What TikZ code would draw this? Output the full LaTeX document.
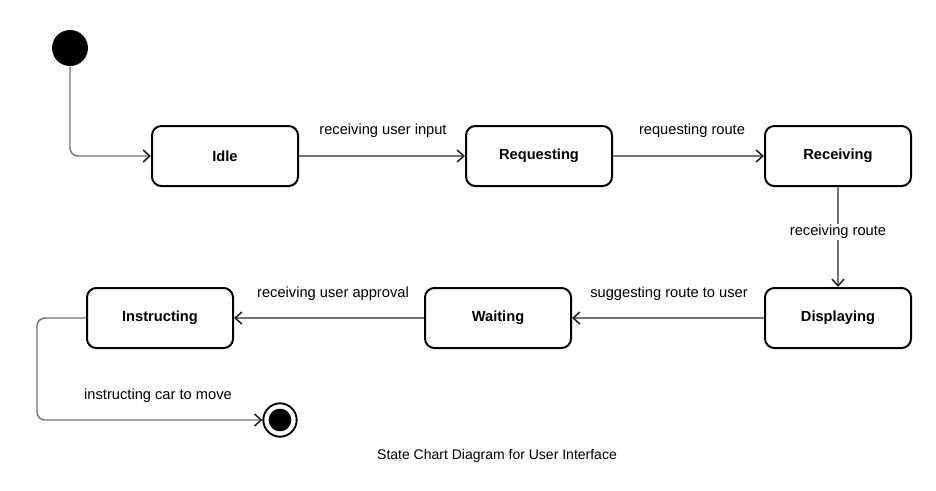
\documentclass[tikz,border=0pt]{standalone}
\usepackage{fontspec}
\setmainfont{Liberation Sans}
\usetikzlibrary{arrows.meta}

\tikzset{
  state/.style={draw=black, line width=1.5pt, rounded corners=7pt, fill=white,
    minimum width=109.5pt, minimum height=45pt, font=\bfseries\fontsize{11}{13}\selectfont},
  trans/.style={draw=black!55, line width=1.1pt, rounded corners=6pt,
    -{Straight Barb[length=5pt,width=9pt,line width=1.2pt,color=black!85]}},
  lbl/.style={font=\fontsize{11}{13}\selectfont, inner sep=1pt}
}

\begin{document}
\begin{tikzpicture}[x=0.75pt,y=-0.75pt]
  \useasboundingbox (0,0) rectangle (936,490);

  % Estado inicial y final
  \node[circle, fill=black, minimum size=27pt, inner sep=0pt] (ini) at (70,48) {};
  \node[circle, draw=black, line width=1.4pt, minimum size=25pt, inner sep=0pt] (fin) at (280,420) {};
  \node[circle, fill=black, minimum size=17pt, inner sep=0pt] (finin) at (280,420) {};

  % Estados
  \node[state] (idle) at (225,156) {Idle};
  \node[state] (req) at (539,156) {Requesting};
  \node[state] (rec) at (838,156) {Receiving};
  \node[state] (disp) at (838,318) {Displaying};
  \node[state] (wait) at (498,318) {Waiting};
  \node[state] (instr) at (160,318) {Instructing};

  % Transiciones
  \draw[trans] (ini.south) |- (idle.west);
  \draw[trans] (idle) -- (req);
  \draw[trans] (req) -- (rec);
  \draw[trans] (rec) -- (disp);
  \draw[trans] (disp) -- (wait);
  \draw[trans] (wait) -- (instr);
  \draw[trans] (instr.west) -- (37,318) -- (37,420) -- (fin.west);

  % Etiquetas
  \node[lbl] (l1) at (383,131) {receiving user input};
  \node[lbl] (l2) at (692,131) {requesting route};
  \node[lbl, fill=white] (l3) at (838,232) {receiving route};
  \node[lbl] (l4) at (669,294) {suggesting route to user};
  \node[lbl] (l5) at (333,294) {receiving user approval};
  \node[lbl] (l6) at (158,396) {instructing car to move};

  % Titulo
  \node[font=\fontsize{10.5}{12}\selectfont] (title) at (497,456) {State Chart Diagram for User Interface};
\end{tikzpicture}
\end{document}
